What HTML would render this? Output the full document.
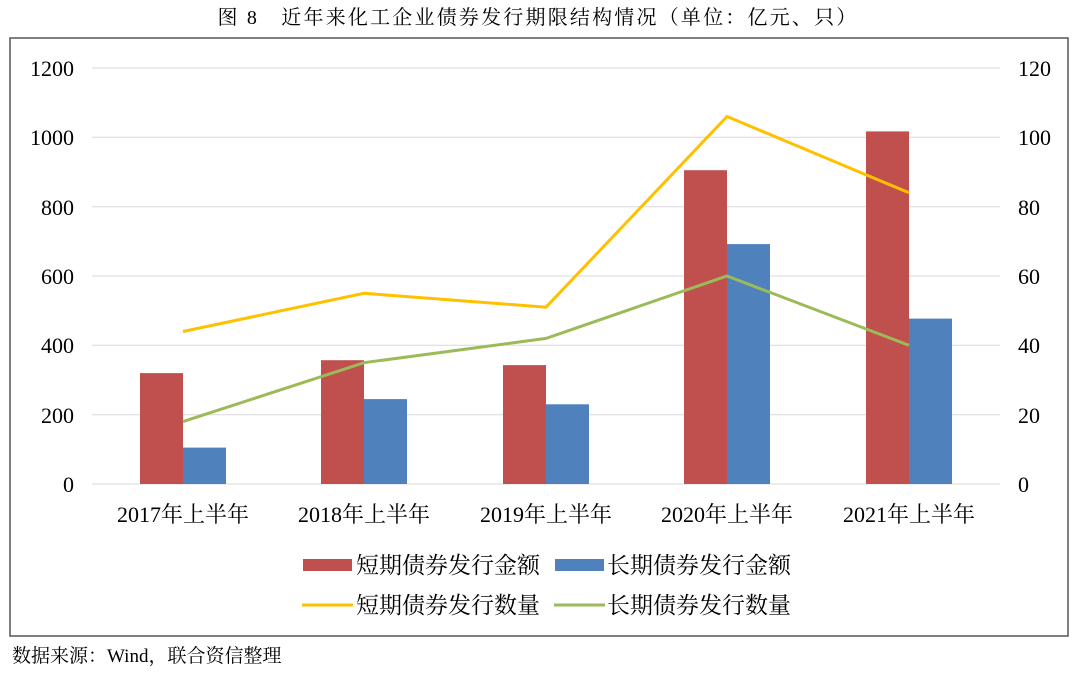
<!DOCTYPE html><html><head><meta charset="utf-8"><style>body{margin:0;background:#fff;width:1080px;height:670px;overflow:hidden}</style></head><body>
<svg width="1080" height="670" xmlns="http://www.w3.org/2000/svg" font-family="Liberation Serif, Noto Serif CJK SC, serif">
<text x="538" y="24" text-anchor="middle" font-size="20" letter-spacing="2.2">图 8　近年来化工企业债券发行期限结构情况（单位：亿元、只）</text>
<rect x="10" y="38" width="1058" height="598" fill="none" stroke="#555" stroke-width="1.5"/>
<g stroke="#d9d9d9" stroke-width="1">
<line x1="92" x2="1000" y1="68" y2="68"/><line x1="92" x2="1000" y1="137.3" y2="137.3"/><line x1="92" x2="1000" y1="206.7" y2="206.7"/><line x1="92" x2="1000" y1="276" y2="276"/><line x1="92" x2="1000" y1="345.3" y2="345.3"/><line x1="92" x2="1000" y1="414.7" y2="414.7"/><line x1="92" x2="1000" y1="484" y2="484"/></g>
<g font-size="22" text-anchor="end">
<text x="74" y="76">1200</text><text x="74" y="145">1000</text><text x="74" y="215">800</text><text x="74" y="284">600</text><text x="74" y="353">400</text><text x="74" y="423">200</text><text x="74" y="492">0</text></g>
<g font-size="22" text-anchor="start">
<text x="1018" y="76">120</text><text x="1018" y="145">100</text><text x="1018" y="215">80</text><text x="1018" y="284">60</text><text x="1018" y="353">40</text><text x="1018" y="423">20</text><text x="1018" y="492">0</text></g>
<g fill="#c0504d">
<rect x="140" y="373.1" width="43" height="110.9"/><rect x="321" y="360.2" width="43" height="123.8"/><rect x="503" y="365.1" width="43" height="118.9"/><rect x="684" y="170.2" width="43" height="313.8"/><rect x="866" y="131.4" width="43" height="352.6"/></g>
<g fill="#4f81bd">
<rect x="183" y="447.6" width="43" height="36.4"/><rect x="364" y="399.1" width="43" height="84.9"/><rect x="546" y="404.3" width="43" height="79.7"/><rect x="727" y="244.1" width="43" height="239.9"/><rect x="909" y="318.6" width="43" height="165.4"/></g>
<polyline fill="none" stroke="#ffc000" stroke-width="3" points="183,331.5 364,293.3 546,307.2 727,116.5 909,192.8"/>
<polyline fill="none" stroke="#9bbb59" stroke-width="3" points="183,421.6 364,362.7 546,338.4 727,276 909,345.3"/>
<g font-size="22" text-anchor="middle">
<text x="183" y="522">2017年上半年</text><text x="364" y="522">2018年上半年</text><text x="546" y="522">2019年上半年</text><text x="727" y="522">2020年上半年</text><text x="909" y="522">2021年上半年</text></g>
<rect x="303" y="559" width="49" height="12" fill="#c0504d"/>
<rect x="555" y="559" width="49" height="12" fill="#4f81bd"/>
<line x1="302" x2="353" y1="605" y2="605" stroke="#ffc000" stroke-width="3"/>
<line x1="554" x2="605" y1="605" y2="605" stroke="#9bbb59" stroke-width="3"/>
<g font-size="23">
<text x="356" y="573">短期债券发行金额</text><text x="607" y="573">长期债券发行金额</text>
<text x="356" y="613">短期债券发行数量</text><text x="607" y="613">长期债券发行数量</text></g>
<text x="12" y="662" font-size="19">数据来源：Wind，联合资信整理</text>
</svg></body></html>
